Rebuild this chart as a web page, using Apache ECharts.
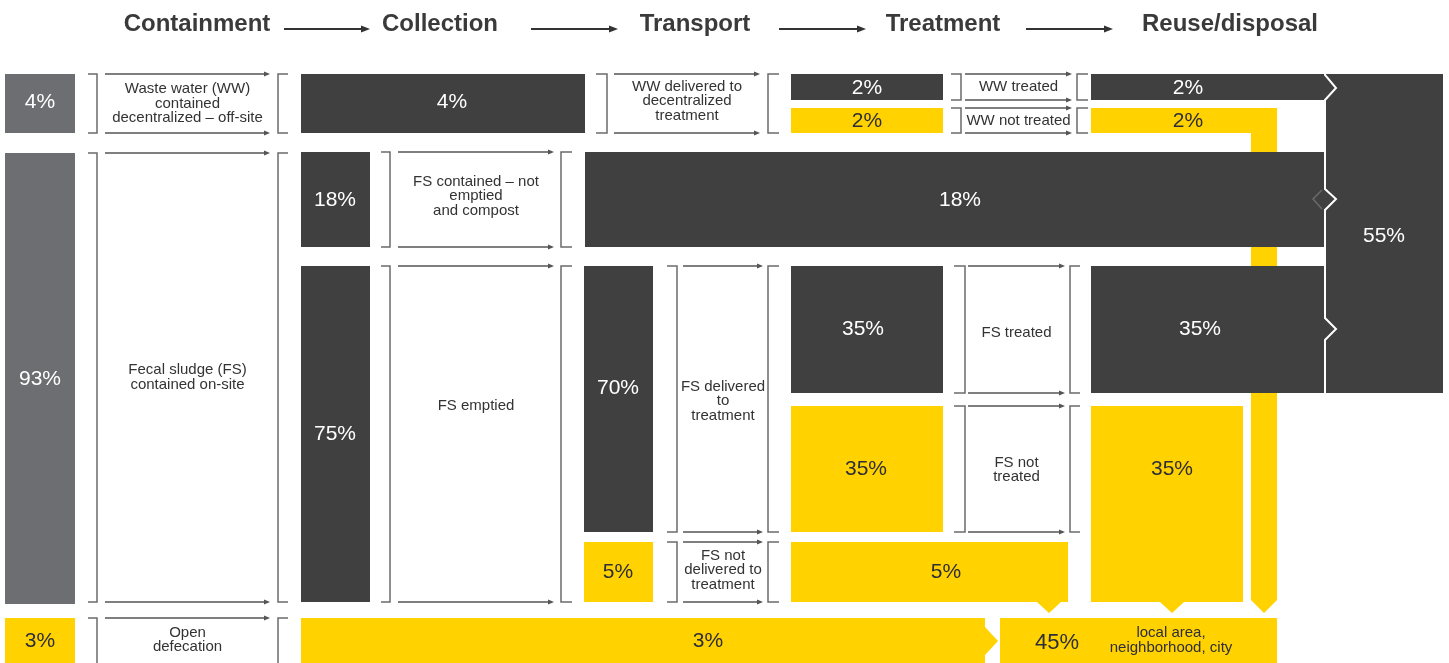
<!DOCTYPE html>
<html><head><meta charset="utf-8">
<script src="https://cdn.jsdelivr.net/npm/echarts@6/dist/echarts.min.js"></script>
<style>html,body{margin:0;padding:0;background:#fff}#c{width:1449px;height:663px}</style>
</head><body><div id="c"></div>
<script>
// ---------- DATA ----------
const stages = ['Containment', 'Collection', 'Transport', 'Treatment', 'Reuse/disposal'];
const containment = [4, 93, 3];           // WW off-site, FS on-site, open defecation
const collection = [4, 18, 75, 3];        // WW collected, FS not emptied, FS emptied, open defecation
const transport = [70, 5];                // FS delivered, FS not delivered
const treatment = [2, 2, 35, 35, 5];      // WW treated, WW not treated, FS treated, FS not treated, FS not delivered
const reuse = [2, 2, 18, 35, 35, 55, 45]; // WW treated, WW not treated, FS not emptied, FS treated, FS not treated, safe total, unsafe total
const flowLabels = [
  'Waste water (WW)\ncontained\ndecentralized \u2013 off-site',
  'Fecal sludge (FS)\ncontained on-site',
  'Open\ndefecation',
  'FS contained \u2013 not\nemptied\nand compost',
  'FS emptied',
  'WW delivered to\ndecentralized\ntreatment',
  'FS delivered\nto\ntreatment',
  'FS not\ndelivered to\ntreatment',
  'WW treated',
  'WW not treated',
  'FS treated',
  'FS not\ntreated'
];
const reuseNote = 'local area,\nneighborhood, city';

// ---------- LAYOUT (diagram units on hidden axes) ----------
const COL = {dark: '#404040', gray: '#6d6e71', yellow: '#ffd200', ink: '#2e2e38', line: '#6b6b6b', head: '#3a3a3a'};
const FONT = "'Liberation Sans', Arial, sans-serif";
function rect(x0, y0, x1, y1) { return [[x0, y0], [x1, y0], [x1, y1], [x0, y1]]; }

const boxes = [
  {v: reuse[1], fill: 'yellow', pts: [[1091,108],[1277,108],[1277,600],[1264,613],[1251,600],[1251,133],[1091,133]], t: [1188,121]},
  {v: containment[0], fill: 'gray', pts: rect(5,74,75,133), t: [40,102]},
  {v: containment[1], fill: 'gray', pts: rect(5,153,75,604), t: [40,379]},
  {v: containment[2], fill: 'yellow', pts: rect(5,618,75,675), t: [40,641]},
  {v: collection[0], fill: 'dark', pts: rect(301,74,585,133), t: [452,102]},
  {v: collection[1], fill: 'dark', pts: rect(301,152,370,247), t: [335,200]},
  {v: collection[2], fill: 'dark', pts: rect(301,266,370,602), t: [335,434]},
  {v: collection[3], fill: 'yellow', pts: [[301,618],[985,618],[985,627],[998,641],[985,655],[985,675],[301,675]], t: [708,641]},
  {v: reuse[2], fill: 'dark', pts: rect(585,152,1325,247), t: [960,200]},
  {v: transport[0], fill: 'dark', pts: rect(584,266,653,532), t: [618,388]},
  {v: transport[1], fill: 'yellow', pts: rect(584,542,653,602), t: [618,572]},
  {v: treatment[0], fill: 'dark', pts: rect(791,74,943,100), t: [867,88]},
  {v: treatment[1], fill: 'yellow', pts: rect(791,108,943,133), t: [867,121]},
  {v: treatment[2], fill: 'dark', pts: rect(791,266,943,393), t: [863,329]},
  {v: treatment[3], fill: 'yellow', pts: rect(791,406,943,532), t: [866,469]},
  {v: treatment[4], fill: 'yellow', pts: [[791,542],[1068,542],[1068,602],[1061,602],[1049,613],[1037,602],[791,602]], t: [946,572]},
  {v: reuse[0], fill: 'dark', pts: rect(1091,74,1325,100), t: [1188,88]},
  {v: reuse[3], fill: 'dark', pts: rect(1091,266,1325,393), t: [1200,329]},
  {v: reuse[4], fill: 'yellow', pts: [[1091,406],[1243,406],[1243,602],[1184,602],[1172,613],[1160,602],[1091,602]], t: [1172,469]},
  {v: reuse[5], fill: 'dark', pts: rect(1325,74,1443,393), t: [1384,236]},
  {v: reuse[6], fill: 'yellow', pts: rect(1000,618,1277,675), t: [1057,643], big: true}
];

// connector groups: ] bracket, arrows, [ bracket, label
const connectors = [
  {b1: [88,97], a: [105,270], b2: [278,288], y: [74,133], label: 0},
  {b1: [88,97], a: [105,270], b2: [278,288], y: [153,602], label: 1},
  {b1: [88,97], a: [105,270], b2: [278,288], y: [618,680], label: 2, ty: 640},
  {b1: [381,390], a: [398,554], b2: [561,572], y: [152,247], label: 3, ty: 196},
  {b1: [381,390], a: [398,554], b2: [561,572], y: [266,602], label: 4, ty: 406},
  {b1: [596,607], a: [614,760], b2: [768,779], y: [74,133], label: 5, ty: 101},
  {b1: [667,677], a: [683,763], b2: [768,779], y: [266,532], label: 6, ty: 401},
  {b1: [667,677], a: [683,763], b2: [768,779], y: [542,602], label: 7, ty: 570},
  {b1: [951,961], a: [965,1072], b2: [1077,1088], y: [74,100], label: 8},
  {b1: [951,961], a: [965,1072], b2: [1077,1088], y: [108,133], label: 9},
  {b1: [954,965], a: [968,1065], b2: [1070,1080], y: [266,393], label: 10, ty: 333},
  {b1: [954,965], a: [968,1065], b2: [1070,1080], y: [406,532], label: 11, ty: 470}
];

const headerPos = [197, 440, 695, 943, 1230];
const headerArrows = [[284,370],[531,618],[779,866],[1026,1113]];

// ---------- RENDER ----------
function P(api, pts) { return pts.map(p => api.coord(p)); }

const chart = echarts.init(document.getElementById('c'));
const idx = arr => arr.map((_, i) => [i, 0]);

function renderBox(params, api) {
  const b = boxes[params.dataIndex];
  const c = api.coord(b.t);
  return {
    type: 'group',
    children: [
      {type: 'polygon', shape: {points: P(api, b.pts)}, style: {fill: COL[b.fill]}},
      {type: 'text', x: c[0], y: c[1], style: {
        text: b.v + '%', fill: b.fill === 'yellow' ? COL.ink : '#ffffff',
        font: (b.big ? '22px ' : '21px ') + FONT, align: 'center', verticalAlign: 'middle'}}
    ]
  };
}

function renderOutline(params, api) {
  const c = api.coord([1171, 640]);
  return {
    type: 'group',
    children: [
      {type: 'polyline', shape: {points: P(api, [[1325,74],[1325,75],[1336,88],[1325,100],[1325,189],[1336,199],[1325,210],[1325,318],[1336,329],[1325,340],[1325,393]])},
        style: {stroke: '#ffffff', lineWidth: 2, fill: null}},
      {type: 'polyline', shape: {points: P(api, [[1322,190],[1313,199],[1322,209]])},
        style: {stroke: '#6a6a6a', lineWidth: 1.5, fill: null}},
      {type: 'text', x: c[0], y: c[1], style: {text: reuseNote, fill: COL.ink, font: '15px ' + FONT,
        align: 'center', verticalAlign: 'middle', lineHeight: 15}}
    ]
  };
}

function arrowLine(api, x0, x1, y, color, w, hl, hw) {
  const out = [];
  const p0 = api.coord([x0, y]), p1 = api.coord([x1, y]);
  out.push({type: 'line', shape: {x1: p0[0], y1: p0[1], x2: p1[0] - hl + 1, y2: p1[1]}, style: {stroke: color, lineWidth: w}});
  out.push({type: 'polygon', shape: {points: [[p1[0] - hl, p1[1] - hw], [p1[0], p1[1]], [p1[0] - hl, p1[1] + hw]]}, style: {fill: color}});
  return out;
}

function renderConnector(params, api) {
  const k = connectors[params.dataIndex];
  const [y0, y1] = k.y;
  const ch = [];
  ch.push({type: 'polyline', shape: {points: P(api, [[k.b1[0], y0], [k.b1[1], y0], [k.b1[1], y1], [k.b1[0], y1]])},
    style: {stroke: COL.line, lineWidth: 1.5, fill: null}});
  ch.push({type: 'polyline', shape: {points: P(api, [[k.b2[1], y0], [k.b2[0], y0], [k.b2[0], y1], [k.b2[1], y1]])},
    style: {stroke: COL.line, lineWidth: 1.5, fill: null}});
  ch.push(...arrowLine(api, k.a[0], k.a[1], y0, '#555555', 1.3, 6, 2.5));
  ch.push(...arrowLine(api, k.a[0], k.a[1], y1, '#555555', 1.3, 6, 2.5));
  const ty = k.ty != null ? k.ty : (y0 + y1) / 2;
  const c = api.coord([(k.a[0] + k.a[1]) / 2, ty]);
  ch.push({type: 'text', x: c[0], y: c[1], style: {text: flowLabels[k.label], fill: '#333333',
    font: '15px ' + FONT, align: 'center', verticalAlign: 'middle', lineHeight: 14.5}});
  return {type: 'group', children: ch};
}

function renderHeader(params, api) {
  const i = params.dataIndex;
  const ch = [];
  const c = api.coord([headerPos[i], 24]);
  ch.push({type: 'text', x: c[0], y: c[1], style: {text: stages[i], fill: COL.head,
    font: 'bold 24px ' + FONT, align: 'center', verticalAlign: 'middle'}});
  if (i < headerArrows.length) {
    ch.push(...arrowLine(api, headerArrows[i][0], headerArrows[i][1], 29, '#333333', 2, 9, 3.5));
  }
  return {type: 'group', children: ch};
}

const base = {type: 'custom', coordinateSystem: 'cartesian2d', clip: false, silent: true, animation: false};

chart.setOption({
  animation: false,
  backgroundColor: '#ffffff',
  grid: {left: 0, right: 0, top: 0, bottom: 0},
  xAxis: {type: 'value', min: 0, max: 1449, show: false},
  yAxis: {type: 'value', min: 0, max: 663, inverse: true, show: false},
  series: [
    Object.assign({}, base, {name: 'boxes', data: idx(boxes), renderItem: renderBox, z: 2}),
    Object.assign({}, base, {name: 'outline', data: [[0, 0]], renderItem: renderOutline, z: 3}),
    Object.assign({}, base, {name: 'connectors', data: idx(connectors), renderItem: renderConnector, z: 2}),
    Object.assign({}, base, {name: 'headers', data: idx(stages), renderItem: renderHeader, z: 2})
  ]
});
</script>
</body></html>
